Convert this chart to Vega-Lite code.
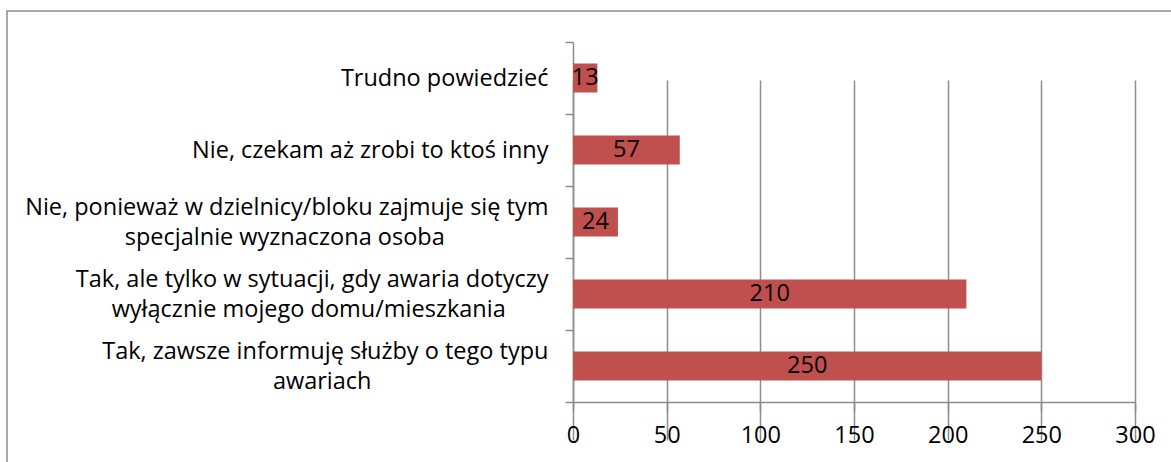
{
  "$schema": "https://vega.github.io/schema/vega-lite/v6.json",
  "width": 1180,
  "height": 460,
  "padding": {"left": 7, "top": 11, "right": 0, "bottom": 0},
  "autosize": {"type": "none"},
  "background": "white",
  "config": {
    "view": {"stroke": "#8c8c8c", "strokeWidth": 1.5},
    "font": "Open Sans"
  },
  "data": {
    "values": [
      {"category": "Trudno powiedzieć", "value": 13},
      {"category": "Nie, czekam aż zrobi to ktoś inny", "value": 57},
      {"category": "Nie, ponieważ w dzielnicy/bloku zajmuje się tym\nspecjalnie wyznaczona osoba", "value": 24},
      {"category": "Tak, ale tylko w sytuacji, gdy awaria dotyczy\nwyłącznie mojego domu/mieszkania", "value": 210},
      {"category": "Tak, zawsze informuję służby o tego typu\nawariach", "value": 250}
    ]
  },
  "encoding": {
    "y": {
      "field": "category",
      "type": "nominal",
      "sort": null,
      "scale": {"range": [31, 391], "paddingInner": 0, "paddingOuter": 0},
      "axis": {
        "title": null,
        "offset": -566,
        "tickBand": "extent",
        "domainColor": "#8c8c8c",
        "domainWidth": 1.5,
        "tickColor": "#8c8c8c",
        "tickWidth": 1.5,
        "tickSize": 8,
        "labelFont": "Open Sans",
        "labelFontSize": 23.5,
        "labelColor": "black",
        "labelLimit": 0,
        "labelPadding": 17,
        "labelLineHeight": 15,
        "labelOffset": -15,
        "labelExpr": "indexof(datum.label, '\\n') < 0 ? ['\u200b', datum.label] : [split(datum.label, '\\n')[0], '\u200b', split(datum.label, '\\n')[1] + pad('', indexof(datum.label, 'osoba') >= 0 ? 17 : indexof(datum.label, 'mieszkania') >= 0 ? 7 : 29, '\u00a0') + '\u200b']",
        "grid": false
      }
    }
  },
  "layer": [
    {
      "mark": {"type": "bar", "color": "#C0504D", "size": 29},
      "encoding": {
        "x": {
          "field": "value",
          "type": "quantitative",
          "scale": {"domain": [0, 300], "range": [566, 1128], "nice": false},
          "axis": {
            "title": null,
            "orient": "bottom",
            "offset": -69,
            "values": [0, 50, 100, 150, 200, 250, 300],
            "grid": true,
            "gridColor": "#8c8c8c",
            "gridWidth": 1.5,
            "domainColor": "#8c8c8c",
            "domainWidth": 1.5,
            "tickColor": "#8c8c8c",
            "tickWidth": 1.5,
            "tickSize": 9,
            "labelFont": "Open Sans",
            "labelFontSize": 23.5,
            "labelColor": "black",
            "labelPadding": 12,
            "labelFlush": false
          }
        }
      }
    },
    {
      "transform": [{"calculate": "datum.value / 2", "as": "mid"}],
      "mark": {"type": "text", "fontSize": 23.5, "color": "black", "align": "center", "baseline": "middle", "font": "Open Sans"},
      "encoding": {
        "x": {"field": "mid", "type": "quantitative"},
        "text": {"field": "value", "type": "quantitative"}
      }
    }
  ]
}
